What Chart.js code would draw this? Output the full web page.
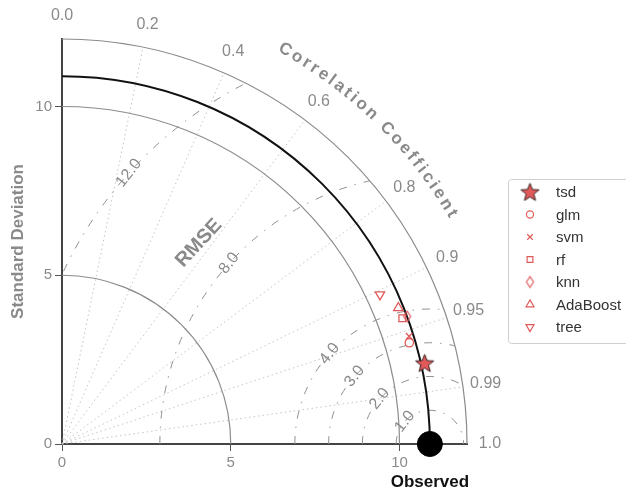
<!DOCTYPE html>
<html>
<head>
<meta charset="utf-8">
<script src="https://cdn.jsdelivr.net/npm/chart.js@4.4.1/dist/chart.umd.min.js"></script>
<style>
  html, body { margin: 0; padding: 0; background: #fff; }
  #wrap { width: 626px; height: 492px; position: relative; }
</style>
</head>
<body>
<div id="wrap"><canvas id="taylor"></canvas></div>
<script>
// Model skill summary: standard deviation and correlation with the observations
const models       = ['tsd', 'glm', 'svm', 'rf', 'knn', 'AdaBoost', 'tree'];
const stdDevs      = [11.01, 10.72, 10.77, 10.75, 10.90, 10.75, 10.41];
const correlations = [0.976, 0.960, 0.955, 0.938, 0.938, 0.927, 0.905];
const observedSd   = 10.9;

// Diagram furniture
const sdMax       = 12;
const sdTicks     = [0, 5, 10];
const sdArcs      = [5, 10, 12];
const corrLabels  = [0.0, 0.2, 0.4, 0.6, 0.8, 0.9, 0.95, 0.99, 1.0];
const corrRays    = [0.2, 0.4, 0.6, 0.8, 0.9, 0.95, 0.99];
const rmseLevels  = [1, 2, 3, 4, 8, 12];

const FONT = '"Liberation Sans", Arial, Helvetica, sans-serif';
const RED = '#e05a5a';
const GREY = '#8a8a8a';

function starImage(r, fill, stroke) {
  const s = Math.ceil(r * 2 + 4);
  const c = document.createElement('canvas');
  c.width = c.height = s;
  const g = c.getContext('2d');
  g.translate(s / 2, s / 2 + 0.8);
  g.beginPath();
  for (let i = 0; i < 10; i++) {
    const rr = i % 2 ? r * 0.43 : r;
    const a = -Math.PI / 2 + i * Math.PI / 5;
    g.lineTo(rr * Math.cos(a), rr * Math.sin(a));
  }
  g.closePath();
  g.fillStyle = fill; g.fill();
  g.lineWidth = 1; g.strokeStyle = stroke; g.stroke();
  return c;
}

function diamondImage(w, h, stroke) {
  const c = document.createElement('canvas');
  c.width = w + 4; c.height = h + 4;
  const g = c.getContext('2d');
  g.translate(c.width / 2, c.height / 2);
  g.beginPath();
  g.moveTo(0, -h / 2); g.lineTo(w / 2, 0); g.lineTo(0, h / 2); g.lineTo(-w / 2, 0);
  g.closePath();
  g.lineWidth = 1.2; g.strokeStyle = stroke; g.stroke();
  return c;
}

const markerStyle = {
  tsd:      { pointStyle: starImage(9.5, RED, '#3a2020'), radius: 9.5, rotation: 0 },
  glm:      { pointStyle: 'circle',   radius: 4.2, rotation: 0 },
  svm:      { pointStyle: 'crossRot', radius: 4.6, rotation: 0 },
  rf:       { pointStyle: 'rect',     radius: 4.8, rotation: 0 },
  knn:      { pointStyle: diamondImage(7, 11, RED), radius: 5.5, rotation: 0 },
  AdaBoost: { pointStyle: 'triangle', radius: 5.4, rotation: 0 },
  tree:     { pointStyle: 'triangle', radius: 5.4, rotation: 180 }
};

const modelDatasets = models.map((m, i) => {
  const c = correlations[i], s = stdDevs[i];
  const st = markerStyle[m];
  return {
    label: m,
    data: [{ x: s * c, y: s * Math.sqrt(1 - c * c) }],
    pointStyle: st.pointStyle,
    pointRadius: st.radius,
    pointRotation: st.rotation,
    backgroundColor: 'rgba(0,0,0,0)',
    borderColor: RED,
    pointBorderWidth: 1.3,
    clip: false
  };
});

const observedDataset = {
  label: 'Observed',
  data: [{ x: observedSd, y: 0 }],
  pointStyle: 'circle',
  pointRadius: 12.5,
  backgroundColor: '#000',
  borderColor: '#000',
  clip: false
};

const deg = Math.PI / 180;

const taylorGrid = {
  id: 'taylorGrid',
  beforeDatasetsDraw(chart) {
    const { ctx, scales: { x, y } } = chart;
    const ox = x.getPixelForValue(0), oy = y.getPixelForValue(0);
    const unit = x.getPixelForValue(1) - ox;
    const P = (sx, sy) => [x.getPixelForValue(sx), y.getPixelForValue(sy)];
    ctx.save();

    // correlation rays
    ctx.strokeStyle = '#c4c4c4'; ctx.lineWidth = 1; ctx.setLineDash([1.5, 3]);
    corrRays.forEach(c => {
      const a = Math.acos(c);
      const [px, py] = P(sdMax * Math.cos(a), sdMax * Math.sin(a));
      ctx.beginPath(); ctx.moveTo(ox, oy); ctx.lineTo(px, py); ctx.stroke();
    });

    // RMSE contours around the observed point, kept inside the quadrant
    ctx.save();
    ctx.beginPath();
    ctx.moveTo(ox, oy);
    ctx.arc(ox, oy, sdMax * unit, -Math.PI / 2, 0, false);
    ctx.closePath();
    ctx.clip();
    const [cx, cy] = P(observedSd, 0);
    ctx.strokeStyle = '#909090'; ctx.lineWidth = 1; ctx.setLineDash([8, 8, 1.5, 8]);
    rmseLevels.forEach(r => {
      ctx.beginPath();
      ctx.arc(cx, cy, r * unit, Math.PI, 2 * Math.PI, false);
      ctx.stroke();
    });
    ctx.restore();

    // standard deviation arcs
    ctx.setLineDash([]);
    ctx.strokeStyle = '#8c8c8c'; ctx.lineWidth = 1.2;
    sdArcs.forEach(r => {
      ctx.beginPath(); ctx.arc(ox, oy, r * unit, -Math.PI / 2, 0, false); ctx.stroke();
    });
    // reference arc through the observed standard deviation
    ctx.strokeStyle = '#111'; ctx.lineWidth = 2;
    ctx.beginPath(); ctx.arc(ox, oy, observedSd * unit, -Math.PI / 2, 0, false); ctx.stroke();

    // correlation labels round the outer arc
    ctx.fillStyle = GREY;
    ctx.font = '16px ' + FONT;
    ctx.textAlign = 'center'; ctx.textBaseline = 'middle';
    corrLabels.forEach(c => {
      const a = Math.acos(c);
      const [px, py] = P(12.68 * Math.cos(a), 12.68 * Math.sin(a));
      ctx.fillText(c.toFixed(c === 0.95 || c === 0.99 ? 2 : 1), px, py);
    });

    // RMSE contour labels along one ray from the observed point
    const labelAngle = 138 * deg;
    ctx.font = '16px ' + FONT;
    rmseLevels.forEach(r => {
      const [px, py] = P(observedSd + r * Math.cos(labelAngle), r * Math.sin(labelAngle));
      ctx.save();
      ctx.translate(px, py);
      ctx.rotate(-(labelAngle - Math.PI / 2) - 4 * deg);
      ctx.fillText(r.toFixed(1), 0, 0);
      ctx.restore();
    });

    // RMSE title
    {
      const [px, py] = P(observedSd + 9.07 * Math.cos(139 * deg), 9.07 * Math.sin(139 * deg));
      ctx.save();
      ctx.translate(px, py);
      ctx.rotate(-47 * deg);
      ctx.font = 'bold 20px ' + FONT;
      ctx.fillStyle = GREY;
      ctx.fillText('RMSE', 0, 0);
      ctx.restore();
    }

    // curved correlation title
    {
      const text = 'Correlation Coefficient';
      const R = 13.42 * unit;
      const a0 = 60.5 * deg, a1 = 30.6 * deg;
      ctx.font = 'bold 17px ' + FONT;
      const chars = [...text];
      const w = chars.map(ch => ctx.measureText(ch).width);
      const natural = w.reduce((s, v) => s + v, 0) - w[0] / 2 - w[w.length - 1] / 2;
      const gap = ((a0 - a1) * R - natural) / (chars.length - 1);
      let arcPos = 0;
      chars.forEach((ch, i) => {
        if (i > 0) arcPos += w[i - 1] / 2 + gap + w[i] / 2;
        const th = a0 - arcPos / R;
        const px = ox + R * Math.cos(th), py = oy - R * Math.sin(th);
        ctx.save();
        ctx.translate(px, py);
        ctx.rotate(Math.PI / 2 - th);
        ctx.fillText(ch, 0, 0);
        ctx.restore();
      });
    }
    ctx.restore();
  },
  afterDraw(chart) {
    const { ctx, scales: { x } } = chart;
    ctx.save();
    // label under the observed point
    ctx.font = 'bold 17px ' + FONT;
    ctx.fillStyle = '#111';
    ctx.textAlign = 'center'; ctx.textBaseline = 'middle';
    ctx.fillText('Observed', x.getPixelForValue(observedSd), 482);

    // legend
    const bx = 508, by = 179, bw = 140, bh = 164;
    ctx.beginPath();
    ctx.roundRect(bx + 0.5, by + 0.5, bw, bh, 3);
    ctx.fillStyle = '#fff'; ctx.fill();
    ctx.strokeStyle = '#cfcfcf'; ctx.lineWidth = 1; ctx.stroke();
    ctx.font = '15px ' + FONT;
    ctx.textAlign = 'left';
    models.forEach((m, i) => {
      const ly = 192 + i * 22.5;
      const st = markerStyle[m];
      const r = m === 'tsd' ? st.radius : st.radius * 0.85;
      ctx.strokeStyle = RED; ctx.fillStyle = 'rgba(0,0,0,0)'; ctx.lineWidth = 1.2;
      Chart.helpers.drawPoint(ctx, { pointStyle: st.pointStyle, radius: r, rotation: st.rotation, borderWidth: 1.2 }, 530, ly);
      ctx.fillStyle = '#333';
      ctx.fillText(m, 556, ly + 1);
    });
    ctx.restore();
  }
};

const axisCommon = {
  type: 'linear',
  min: 0,
  max: sdMax,
  afterBuildTicks: s => { s.ticks = sdTicks.map(v => ({ value: v })); },
  grid: { drawOnChartArea: false, drawTicks: true, tickLength: 7, color: '#555', lineWidth: 1 },
  border: { display: true, color: '#444', width: 2 },
  ticks: { color: GREY, font: { family: FONT, size: 15 }, padding: 3 }
};

new Chart(document.getElementById('taylor'), {
  type: 'scatter',
  data: { datasets: [...modelDatasets, observedDataset] },
  options: {
    responsive: true,
    maintainAspectRatio: false,
    animation: false,
    layout: { padding: { top: 39, right: 159, left: 0, bottom: 0 } },
    plugins: { legend: { display: false }, tooltip: { enabled: false } },
    scales: {
      x: { ...axisCommon, position: 'bottom', afterFit: s => { s.height = 48; } },
      y: {
        ...axisCommon,
        position: 'left',
        afterFit: s => { s.width = 62; },
        title: {
          display: true,
          text: 'Standard Deviation',
          color: GREY,
          font: { family: FONT, size: 17, weight: 'bold' },
          padding: { top: 8, bottom: 0 }
        }
      }
    }
  },
  plugins: [taylorGrid]
});
</script>
</body>
</html>
